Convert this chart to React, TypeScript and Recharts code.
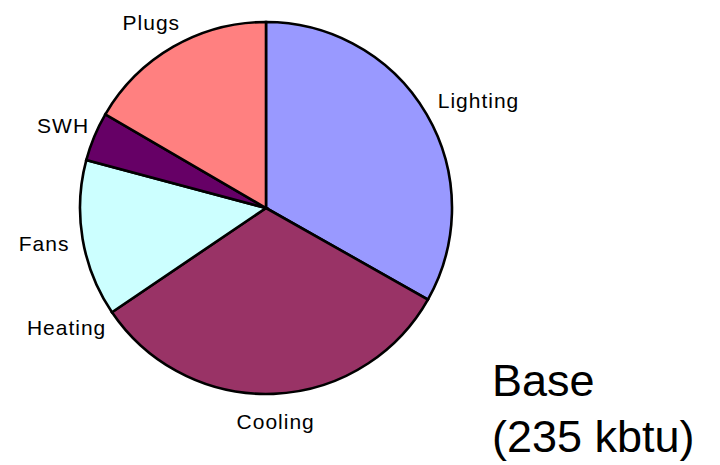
import React from 'react';
import { PieChart, Pie, Cell } from 'recharts';

const categories = ['Lighting', 'Cooling', 'Heating', 'Fans', 'SWH', 'Plugs'];
const values = [78, 76, 0, 32, 10, 39];
const colors = ['#9999FF', '#993366', '#FFFFCC', '#CCFFFF', '#660066', '#FF8080'];
const titleLines = ['Base', '(235 kbtu)'];

const data = categories.map((name, i) => ({ name, value: values[i] }));

const RAD = Math.PI / 180;
const FS = 21;

const renderLabel = (props: any) => {
  const { cx, cy, midAngle, outerRadius, index } = props;
  const name = categories[index];
  const c = Math.cos(midAngle * RAD);
  const s = Math.sin(midAngle * RAD);
  const hw = (name.length * FS * 0.5) / 2;
  const hh = 10;
  const d = outerRadius + 18;
  const x = cx + d * c + hw * c;
  const y = cy - d * s - hh * s;
  return (
    <text
      key={`lbl-${index}`}
      x={x}
      y={y}
      textAnchor="middle"
      dominantBaseline="central"
      fill="#000"
      fontSize={FS}
      letterSpacing={1}
      fontFamily="'Liberation Sans', Arial, sans-serif"
    >
      {name}
    </text>
  );
};

export default function App() {
  return (
    <div style={{ position: 'absolute', left: 0, top: 0, width: 720, height: 465, background: '#fff' }}>
      <PieChart width={720} height={465} margin={{ top: 0, right: 0, bottom: 0, left: 0 }}>
        <Pie
          data={data}
          dataKey="value"
          nameKey="name"
          cx={266}
          cy={208}
          outerRadius={186}
          startAngle={90}
          endAngle={-270}
          stroke="#000"
          strokeWidth={2.6}
          label={renderLabel}
          labelLine={false}
          isAnimationActive={false}
        >
          {data.map((d, i) => (
            <Cell key={d.name} fill={colors[i]} />
          ))}
        </Pie>
      </PieChart>
      <svg width={720} height={465} style={{ position: 'absolute', left: 0, top: 0, pointerEvents: 'none' }}>
        {titleLines.map((t, i) => (
          <text
            key={t}
            x={492}
            y={396 + i * 56}
            fontSize={45}
            fill="#000"
            fontFamily="'Liberation Sans', Arial, sans-serif"
          >
            {t}
          </text>
        ))}
      </svg>
    </div>
  );
}
